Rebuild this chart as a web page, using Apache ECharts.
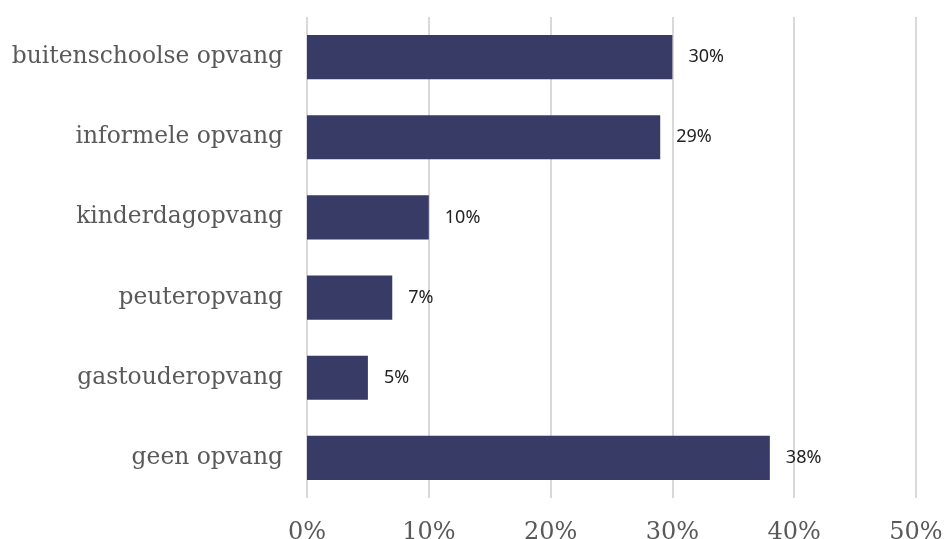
<!DOCTYPE html>
<html>
<head>
<meta charset="utf-8">
<script src="https://cdn.jsdelivr.net/npm/echarts@6/dist/echarts.min.js"></script>
<style>
  html, body { margin: 0; padding: 0; background: #fff; }
  #chart { width: 946px; height: 539px; }
</style>
</head>
<body>
<div id="chart"></div>
<script>
// categorieën van boven naar beneden
const categories = ['buitenschoolse opvang', 'informele opvang', 'kinderdagopvang', 'peuteropvang', 'gastouderopvang', 'geen opvang'];
const values = [30, 29, 10, 7, 5, 38];
const tickValues = [0, 10, 20, 30, 40, 50];

const chart = echarts.init(document.getElementById('chart'));

chart.setOption({
    animation: false,
    grid: {
        left: 307,
        right: 30,
        top: 17,
        bottom: 41,
        containLabel: false,
        outerBoundsMode: 'none'
    },
    xAxis: {
        type: 'value',
        min: tickValues[0],
        max: tickValues[tickValues.length - 1],
        interval: 10,
        axisLine: { show: false },
        axisTick: { show: false },
        splitLine: {
            lineStyle: { color: '#d9d9d9', width: 2 }
        },
        axisLabel: {
            margin: 23,
            color: '#595959',
            fontFamily: 'DejaVu Serif',
            fontSize: 24,
            formatter: v => v + '%'
        }
    },
    yAxis: {
        type: 'category',
        inverse: true,
        data: categories,
        axisLine: { show: false },
        axisTick: { show: false },
        axisLabel: {
            margin: 24,
            color: '#595959',
            fontFamily: 'DejaVu Serif',
            fontSize: 23.4
        }
    },
    series: [{
        type: 'bar',
        data: values,
        barWidth: '55%',
        itemStyle: { color: '#383b66' },
        label: {
            show: true,
            position: 'right',
            distance: 16,
            color: '#222',
            fontFamily: 'Noto Sans',
            fontSize: 18,
            formatter: p => p.value + '%'
        }
    }]
});
</script>
</body>
</html>
